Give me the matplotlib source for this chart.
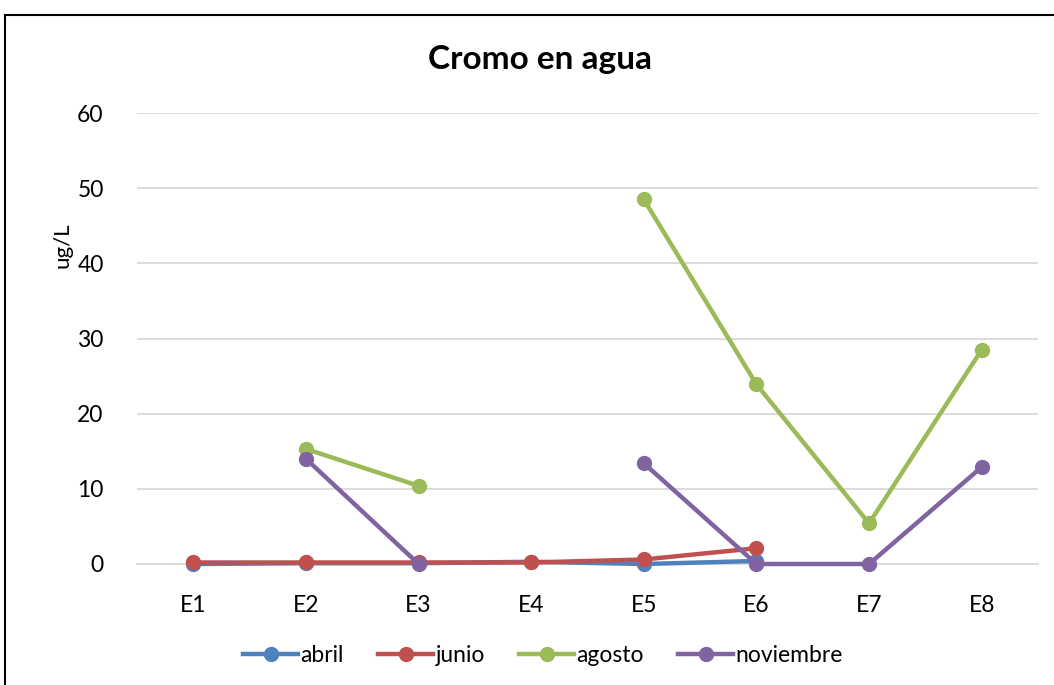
import numpy as np
import matplotlib.pyplot as plt
from matplotlib.lines import Line2D

categories = ["E1", "E2", "E3", "E4", "E5", "E6", "E7", "E8"]
abril = [0.0, 0.1, 0.1, 0.3, 0.0, 0.4, np.nan, np.nan]
junio = [0.2, 0.2, 0.2, 0.2, 0.6, 2.1, np.nan, np.nan]
agosto = [np.nan, 15.3, 10.4, np.nan, 48.5, 23.9, 5.4, 28.5]
noviembre = [np.nan, 14.0, 0.0, np.nan, 13.4, 0.0, 0.0, 12.9]
series = [("abril", abril, "#4F81BD"), ("junio", junio, "#C0504D"),
          ("agosto", agosto, "#9BBB59"), ("noviembre", noviembre, "#8064A2")]
yticks = [0, 10, 20, 30, 40, 50, 60]

plt.rcParams['font.family'] = ['Lato', 'DejaVu Sans']

W, H = 1054, 685
fig = plt.figure(figsize=(W/100, H/100), dpi=100)
ax = fig.add_axes([137/W, 1-564/H, (1038-137)/W, (564-113)/H])

x = np.arange(len(categories))
for name, vals, col in series:
    ax.plot(x, vals, color=col, lw=3.2, marker='o', ms=10, label=name,
            solid_capstyle='round', zorder=3, clip_on=False)

ax.set_xlim(-0.5, len(categories)-0.5)
ax.set_ylim(0, 60)
ax.set_yticks(yticks)
ax.set_xticks(x)
ax.set_xticklabels(categories)
ax.yaxis.grid(True, color='#D9D9D9', lw=1.3)
ax.set_axisbelow(True)
for s in ['top', 'right', 'left']:
    ax.spines[s].set_visible(False)
ax.spines['bottom'].set_color('#D9D9D9')
ax.spines['bottom'].set_linewidth(1.3)
ax.spines['bottom'].set_zorder(0.5)
ax.tick_params(axis='both', length=0, labelsize=16.5, colors='black')
ax.tick_params(axis='x', pad=22)
ax.tick_params(axis='y', pad=24)

fig.text(540/W, 1-60/H, "Cromo en agua", ha='center', va='center',
         fontsize=24, fontweight='bold')
fig.text(62/W, 1-245/H, "ug/L", ha='center', va='center', rotation=90,
         fontsize=16)

handles = [Line2D([0], [0], color=c, lw=3.2, marker='o', ms=10) for _, _, c in series]
leg = fig.legend(handles, [n for n, _, _ in series], loc='center',
                 bbox_to_anchor=(543/W, 1-656/H), ncol=4, frameon=False,
                 fontsize=16.5, handlelength=2.4, handletextpad=0.1,
                 columnspacing=1.5)

# outer frame
fig.add_artist(Line2D([5/W, 1.0], [1-15/H, 1-15/H], color='black', lw=1.5))
fig.add_artist(Line2D([5/W, 5/W], [1-15/H, 0], color='black', lw=1.5))

fig.savefig("out.png", dpi=100)
